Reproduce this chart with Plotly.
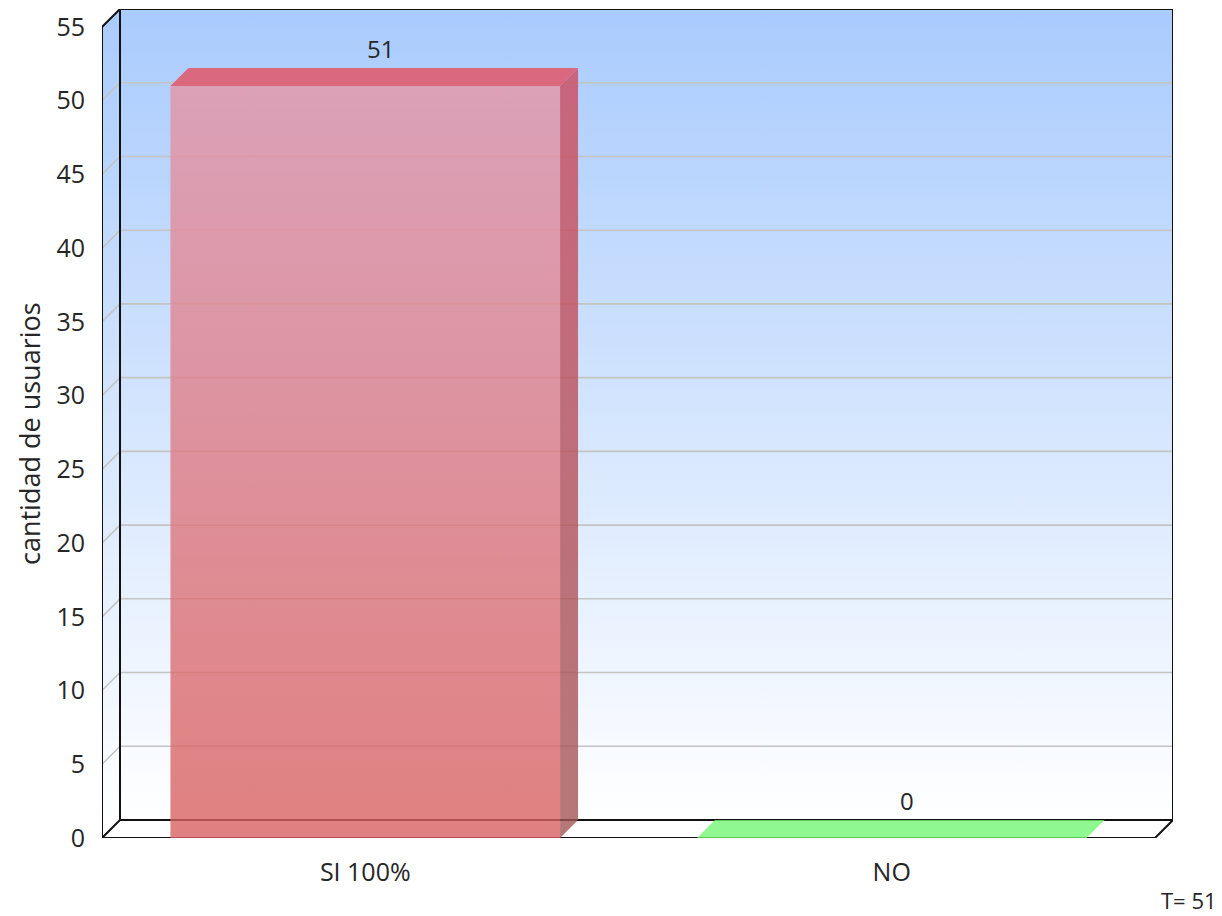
import plotly.graph_objects as go

# ---------------- data ----------------
categories = ["SI 100%", "NO"]
values = [51, 0]
y_ticks = [0, 5, 10, 15, 20, 25, 30, 35, 40, 45, 50, 55]
y_title = "cantidad de usuarios"
total_label = "T= 51"

# ---------------- style / layout constants ----------------
W, H = 1222, 916
L, T = 102, 9            # left / top margin in px
DEPTH = 18               # 3D depth offset in px
FRONT_W = 1053           # width of front plane in px
FRONT_H = 811            # height of front plane in px
Y_MAX = y_ticks[-1]
R = W - (L + FRONT_W + DEPTH)
B = H - (T + DEPTH + FRONT_H)
BAR_W = 0.74
FONT = "Open Sans"
TXT = "#262626"

n = len(categories)
ux = FRONT_W / n          # px per x unit
uy = FRONT_H / Y_MAX      # px per y unit
dx = DEPTH / ux
dy = DEPTH / uy
x_lo, x_hi = -0.5, n - 0.5

bar_styles = [
    dict(front=("rgba(216,96,96,0.8)", "rgba(229,149,166,0.8)"),
         side=("rgba(161,86,86,0.8)", "rgba(207,74,92,0.8)"),
         top="rgba(229,79,96,0.8)"),
    dict(front=("rgba(116,246,116,0.8)", "rgba(116,246,116,0.8)"),
         side=("rgba(90,200,90,0.8)", "rgba(90,200,90,0.8)"),
         top="rgba(116,246,116,0.8)"),
]

fig = go.Figure()


def poly(xs, ys, color=None, grad=None, start=None, stop=None):
    kw = dict(x=list(xs) + [xs[0]], y=list(ys) + [ys[0]], mode="lines",
              fill="toself", line=dict(width=0), hoverinfo="skip",
              showlegend=False)
    if grad is not None:
        g = dict(type="vertical", colorscale=[[0, grad[0]], [1, grad[1]]])
        if start is not None:
            g["start"] = start
            g["stop"] = stop
        kw["fillgradient"] = g
        kw["fillcolor"] = grad[0]
    else:
        kw["fillcolor"] = color
    fig.add_trace(go.Scatter(**kw))


def lines(xs, ys, color, width):
    fig.add_trace(go.Scatter(x=xs, y=ys, mode="lines",
                             line=dict(color=color, width=width),
                             hoverinfo="skip", showlegend=False))


wall_grad = ("#ffffff", "#a9cbfd")
# back wall
poly([x_lo + dx, x_hi + dx, x_hi + dx, x_lo + dx],
     [dy, dy, Y_MAX + dy, Y_MAX + dy], grad=wall_grad, start=dy, stop=Y_MAX + dy)
# left wall
poly([x_lo, x_lo + dx, x_lo + dx, x_lo],
     [0, dy, Y_MAX + dy, Y_MAX], grad=wall_grad, start=dy, stop=Y_MAX + dy)

# gridlines
gx, gy = [], []
for v in y_ticks[1:-1]:
    gx += [x_lo, x_lo + dx, x_hi + dx, None]
    gy += [v, v + dy, v + dy, None]
lines(gx, gy, "#c4c4c4", 1.6)

# frame
fx = [x_lo, x_lo, None, x_lo, x_hi, None,
      x_lo, x_lo + dx, None, x_lo, x_lo + dx, None, x_hi, x_hi + dx, None,
      x_lo + dx, x_lo + dx, x_hi + dx, x_hi + dx, x_lo + dx]
fy = [0, Y_MAX, None, 0, 0, None,
      0, dy, None, Y_MAX, Y_MAX + dy, None, 0, dy, None,
      dy, Y_MAX + dy, Y_MAX + dy, dy, dy]
lines(fx, fy, "#111111", 2)

# bars
for i, (v, st) in enumerate(zip(values, bar_styles)):
    x0, x1 = i - BAR_W / 2, i + BAR_W / 2
    if v > 0:
        poly([x1, x1 + dx, x1 + dx, x1], [0, dy, v + dy, v], grad=st["side"])
        poly([x0, x1, x1, x0], [0, 0, v, v], grad=st["front"])
    poly([x0, x1, x1 + dx, x0 + dx], [v, v, v + dy, v + dy], color=st["top"])
    fig.add_annotation(x=i + dx * 0.85, y=v + dy, text=str(v), showarrow=False,
                       xanchor="center", yanchor="bottom", yshift=1,
                       font=dict(family=FONT, size=24, color=TXT))

plot_w = W - L - R
plot_h = H - T - B

fig.add_annotation(xref="paper", yref="paper",
                   x=(29 - L) / plot_w, y=(H - B - 434) / plot_h,
                   text=y_title, textangle=-90, showarrow=False,
                   xanchor="center", yanchor="middle",
                   font=dict(family=FONT, size=27, color=TXT))
fig.add_annotation(xref="paper", yref="paper",
                   x=(1218 - L) / plot_w, y=(H - B - 900) / plot_h,
                   text=total_label, showarrow=False,
                   xanchor="right", yanchor="middle", borderpad=0,
                   font=dict(family=FONT, size=22, color=TXT))

fig.update_layout(
    width=W, height=H,
    margin=dict(l=L, r=R, t=T, b=B, pad=0),
    paper_bgcolor="white", plot_bgcolor="white",
    showlegend=False,
    xaxis=dict(range=[x_lo, x_hi + dx], tickvals=list(range(n)), ticktext=categories,
               showgrid=False, zeroline=False, showline=False,
               ticks="outside", ticklen=12, tickcolor="rgba(0,0,0,0)",
               tickfont=dict(family=FONT, size=25, color=TXT), fixedrange=True),
    yaxis=dict(range=[0, Y_MAX + dy], tickvals=y_ticks, ticktext=[str(t) for t in y_ticks],
               showgrid=False, zeroline=False, showline=False,
               ticks="outside", ticklen=11, tickcolor="rgba(0,0,0,0)",
               tickfont=dict(family=FONT, size=25, color=TXT), fixedrange=True),
)

fig.write_html("out.html")
